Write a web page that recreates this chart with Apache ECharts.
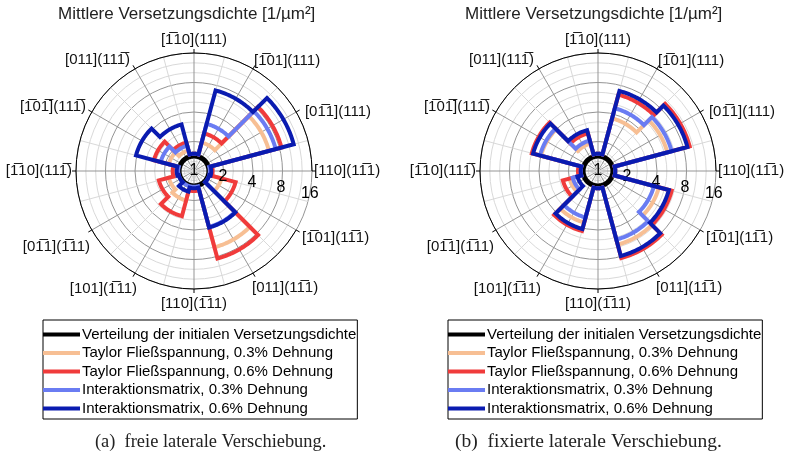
<!DOCTYPE html>
<html><head><meta charset="utf-8">
<script src="https://cdn.jsdelivr.net/npm/echarts@6/dist/echarts.min.js"></script>
<style>html,body{margin:0;padding:0;background:#fff}#c{width:790px;height:458px}</style>
</head><body><div id="c"></div>
<script>
// ---------- data ----------
const N = '1\u0305'; // digit 1 with overline
// angle labels, counter-clockwise from 0° (right)
const thetaLabels = [
  '[110](1' + N + '1)', '[0' + N + '1](111)', '[' + N + '01](111)', '[' + N + '10](111)',
  '[011](11' + N + ')', '[' + N + '0' + N + '](11' + N + ')', '[' + N + '10](11' + N + ')',
  '[0' + N + '1](' + N + '11)', '[101](' + N + '11)', '[110](' + N + '11)',
  '[011](1' + N + '1)', '[' + N + '01](1' + N + '1)'
];
const binAngles = [0, 30, 60, 90, 120, 150, 180, 210, 240, 270, 300, 330];
const radialMin = 1, radialMax = 16; // radial ticks 1,2,4,8,16 (log2)

const seriesNames = [
  'Verteilung der initialen Versetzungsdichte',
  'Taylor Fließspannung, 0.3% Dehnung',
  'Taylor Fließspannung, 0.6% Dehnung',
  'Interaktionsmatrix, 0.3% Dehnung',
  'Interaktionsmatrix, 0.6% Dehnung'
];
// (a) freie laterale Verschiebung
const initA     = [1.42, 1.42, 1.42, 1.42, 1.42, 1.42, 1.42, 1.42, 1.42, 1.42, 1.42, 1.42];
const taylor03A = [1.5, 6.2, 2.0, 1.5, 1.65, 1.85, 1.5, 1.85, 2.05, 1.5, 6.4, 1.95];
const taylor06A = [1.55, 8.4, 2.5, 1.5, 2.0, 2.65, 1.65, 2.35, 3.0, 1.6, 8.4, 2.75];
const inter03A  = [1.45, 7.3, 3.15, 1.5, 1.85, 2.25, 1.45, 1.45, 1.45, 1.45, 3.9, 1.45];
const inter06A  = [1.5, 11.3, 7.1, 1.5, 3.1, 4.1, 1.5, 1.45, 1.65, 1.5, 3.95, 1.45];
// (b) fixierte laterale Verschiebung
const initB     = [1.42, 1.42, 1.42, 1.42, 1.42, 1.42, 1.42, 1.42, 1.42, 1.42, 1.42, 1.42];
const taylor03B = [1.5, 5.4, 3.6, 1.5, 1.95, 4.0, 1.5, 2.0, 3.5, 1.5, 6.0, 4.4];
const taylor06B = [1.5, 9.3, 6.4, 1.5, 2.5, 5.0, 1.6, 2.35, 4.3, 1.5, 8.3, 6.0];
const inter03B  = [1.5, 6.0, 4.6, 1.5, 2.1, 4.1, 1.5, 1.85, 3.1, 1.5, 5.3, 3.9];
const inter06B  = [1.5, 8.8, 7.0, 1.5, 2.7, 4.85, 1.5, 1.65, 4.1, 1.5, 7.9, 5.6];

// ---------- styling / layout ----------
const colors = ['#000000', '#F7BF94', '#F03B3B', '#6A7CF2', '#0A1BB0'];
const widths = [5, 4, 4, 4, 4];
const FONT = 'Liberation Sans, Arial, sans-serif';
const CY = 171, R = 118;
// per-label nudges [top, right, bottom, left]
const labelPads = [
  [6, 0, 0, 0], [0, 0, -8, 7], [0, 0, -1, 0], [0, 0, 4, 0],
  [0, 4, 0, 0], [0, 4, -3, 0], [2, 2, 0, 0],
  [8, 0, 0, 0], [6, -3, 0, 0], [5, 0, 0, 0],
  [5, 0, 0, -2], [-1, 0, 0, 4]
];
const charts = [
  {cx: 194, sets: [initA, taylor03A, taylor06A, inter03A, inter06A]},
  {cx: 598, sets: [initB, taylor03B, taylor06B, inter03B, inter06B]}
];

function stairsRender(vals, color, width) {
  return function (params, api) {
    if (params.dataIndex !== 0) return;
    const pts = [];
    for (let i = 0; i < vals.length; i++) {
      const a0 = binAngles[i] - 15;
      for (let k = 0; k <= 30; k++) pts.push(api.coord([vals[i], a0 + k]));
    }
    return {type: 'polygon', shape: {points: pts},
      style: {stroke: color, lineWidth: width, fill: 'none', lineJoin: 'miter'}};
  };
}

const labelData = thetaLabels.map((t, i) => ({value: t, textStyle: {padding: labelPads[i]}}));

const polar = [], angleAxis = [], radiusAxis = [], series = [];
charts.forEach((c, ci) => {
  const base = ci * 4;
  for (let k = 0; k < 4; k++) polar.push({center: [c.cx, CY], radius: R});
  // grid polar
  angleAxis.push({polarIndex: base, type: 'value', min: 0, max: 360, interval: 15, startAngle: 0, clockwise: false,
    axisLine: {show: false}, axisTick: {show: false}, axisLabel: {show: false},
    splitLine: {show: true, lineStyle: {color: ['#959595', '#d9d9d9'], width: 1}}});
  radiusAxis.push({polarIndex: base, type: 'value', min: 0, max: 12, interval: 1,
    axisLine: {show: false}, axisTick: {show: false}, axisLabel: {show: false},
    splitLine: {show: true, lineStyle: {color: ['#959595', '#d9d9d9', '#d9d9d9'], width: 1}}});
  // main (data) polar
  angleAxis.push({polarIndex: base + 1, type: 'value', min: 0, max: 360, startAngle: 0, clockwise: false, show: false});
  radiusAxis.push({polarIndex: base + 1, type: 'log', logBase: 2, min: radialMin, max: radialMax, show: false});
  // labels polar (category angle labels + outer circle)
  angleAxis.push({polarIndex: base + 2, type: 'category', data: labelData, boundaryGap: false, startAngle: 0, clockwise: false,
    axisLine: {show: true, lineStyle: {color: '#000', width: 1}},
    axisTick: {show: true, length: 4, lineStyle: {color: '#000'}},
    axisLabel: {show: true, margin: 2, fontSize: 15, color: '#111', fontFamily: FONT},
    splitLine: {show: false}, z: 3});
  radiusAxis.push({polarIndex: base + 2, type: 'value', show: false});
  // radial tick labels polar
  angleAxis.push({polarIndex: base + 3, type: 'value', min: 0, max: 360, startAngle: -11, clockwise: false, show: false});
  radiusAxis.push({polarIndex: base + 3, type: 'log', logBase: 2, min: radialMin, max: radialMax,
    axisLine: {show: false}, axisTick: {show: false}, splitLine: {show: false},
    axisLabel: {show: true, margin: 0, fontSize: 16, color: '#000', fontFamily: FONT, align: 'center', verticalAlign: 'middle'},
    z: 5});
  c.sets.forEach((vals, si) => {
    series.push({
      type: 'custom', name: seriesNames[si], coordinateSystem: 'polar', polarIndex: base + 1,
      itemStyle: {color: colors[si]}, z: 2 + si,
      data: vals.map((v, i) => [v, binAngles[i]]),
      renderItem: stairsRender(vals, colors[si], widths[si]), animation: false
    });
  });
});

const legendCommon = {
  data: seriesNames, orient: 'vertical', top: 320, icon: 'rect', itemWidth: 37, itemHeight: 4, itemGap: 3.5,
  padding: [7, 1, 3, 0], borderColor: '#000', borderWidth: 1, selectedMode: false,
  textStyle: {fontSize: 15, color: '#000', fontFamily: FONT, padding: [0, 0, 0, -3]}
};

const titleStyle = {fontSize: 17, fontWeight: 'normal', color: '#222', fontFamily: FONT};
const chart = echarts.init(document.getElementById('c'), null, {renderer: 'canvas'});
chart.setOption({
  animation: false,
  backgroundColor: '#fff',
  textStyle: {fontFamily: FONT},
  title: [
    {text: 'Mittlere Versetzungsdichte [1/µm²]', left: 58, top: 6, padding: 0, textStyle: titleStyle},
    {text: 'Mittlere Versetzungsdichte [1/µm²]', left: 465, top: 6, padding: 0, textStyle: titleStyle}
  ],
  legend: [Object.assign({left: 43}, legendCommon), Object.assign({left: 448}, legendCommon)],
  polar, angleAxis, radiusAxis, series,
  graphic: [
    {type: 'text', left: 95, top: 433, style: {text: '(a)  freie laterale Verschiebung.', font: '18.4px "Liberation Serif", serif', fill: '#222'}},
    {type: 'text', left: 455, top: 432, style: {text: '(b)  fixierte laterale Verschiebung.', font: '19.5px "Liberation Serif", serif', fill: '#222'}}
  ]
});
</script></body></html>
